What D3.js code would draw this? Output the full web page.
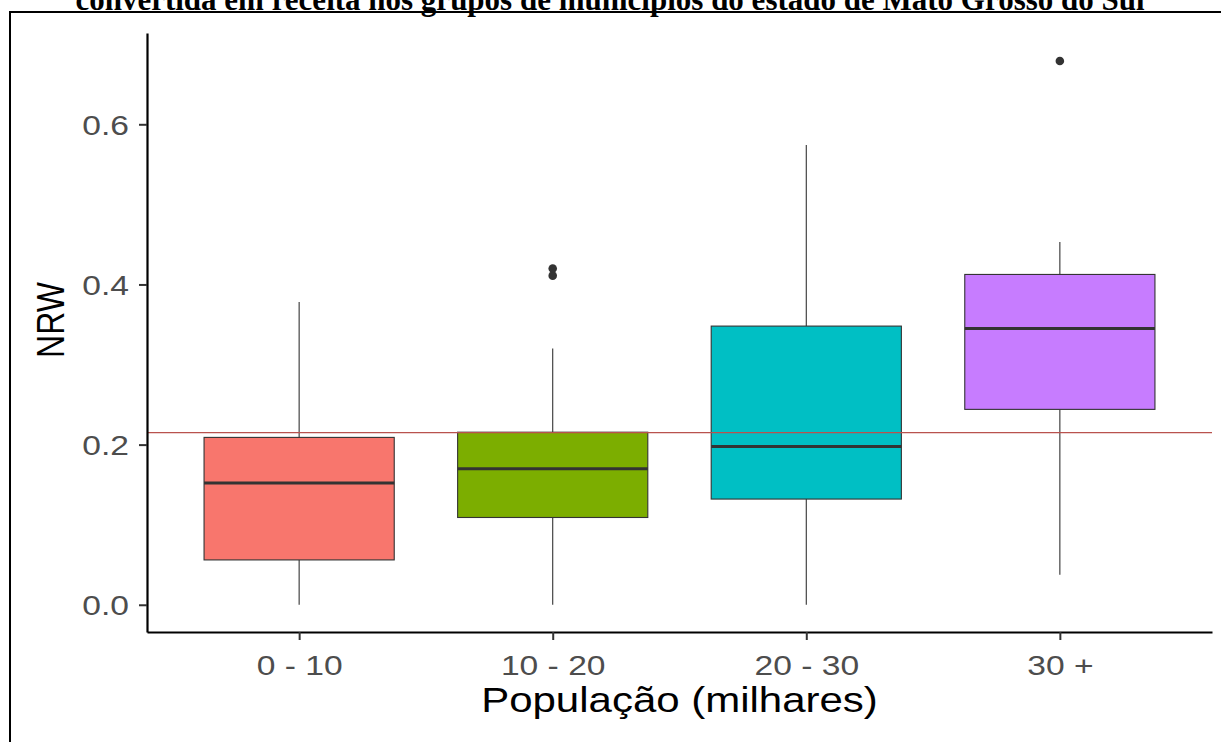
<!DOCTYPE html>
<html>
  <head>
    <meta charset="utf-8">
    <script src="https://d3js.org/d3.v7.min.js"></script>
    <style>
     body { margin: 0; background: #fff; }
     svg { display: block; }
     .axis-text { font-family: "Liberation Sans", Arial, sans-serif; }
    </style>
  </head>
  <body>
    <svg id="chart"></svg>
    <script>
     // values
     var categories = ["0 - 10", "10 - 20", "20 - 30", "30 +"];
     var whiskerLow = [0.000, 0.000, 0.000, 0.0375];
     var q1 = [0.056, 0.109, 0.132, 0.244];
     var medians = [0.152, 0.170, 0.1975, 0.345];
     var q3 = [0.209, 0.2155, 0.348, 0.4125];
     var whiskerHigh = [0.378, 0.320, 0.574, 0.453];
     var outliers = [[], [0.411, 0.420], [], [0.679]];
     var fills = ["#F8766D", "#7CAE00", "#00BFC4", "#C77CFF"];
     var refLine = 0.215;
     var yTicks = [0, 0.2, 0.4, 0.6];
     var titleText = "convertida em receita nos grupos de municípios do estado de Mato Grosso do Sul";

     var W = 1221, H = 742;
     var stretch = 1.2; // the picture is a bit wider than it should be

     var svg = d3.select("#chart").attr("width", W).attr("height", H);

     // page title, cut at the top like in the picture
     var title = svg.append("text")
		    .attr("x", 0).attr("y", 0)
		    .style("font-family", "'Liberation Serif', 'Times New Roman', serif")
		    .style("font-weight", "bold")
		    .style("font-size", "31px")
		    .text(titleText);
     var tw = title.node().getComputedTextLength();
     title.attr("transform", "translate(" + (610 - tw/2) + ",10)");

     // frame
     svg.append("rect")
	.attr("x", 10).attr("y", 12)
	.attr("width", W).attr("height", H)
	.style("fill", "none").style("stroke", "#000").style("stroke-width", 2);

     var x = d3.scalePoint().domain(categories).range([147, 1212]).padding(0.6);
     var y = d3.scaleLinear().domain([-0.034, 0.714]).range([632, 33]);
     var boxW = x.step() * 0.75;

     var g = svg.append("g");

     // whiskers
     categories.forEach(function(c, i) {
	 g.append("line")
	  .attr("x1", x(c)).attr("x2", x(c))
	  .attr("y1", y(q3[i])).attr("y2", y(whiskerHigh[i]))
	  .style("stroke", "#333").style("stroke-width", 1.1);
	 g.append("line")
	  .attr("x1", x(c)).attr("x2", x(c))
	  .attr("y1", y(q1[i])).attr("y2", y(whiskerLow[i]))
	  .style("stroke", "#333").style("stroke-width", 1.1);
     });

     g.selectAll(".box")
      .data(categories)
      .enter().append("rect")
      .attr("class", "box")
      .attr("x", function(d) { return x(d) - boxW/2; })
      .attr("width", boxW)
      .attr("y", function(d, i) { return y(q3[i]); })
      .attr("height", function(d, i) { return y(q1[i]) - y(q3[i]); })
      .style("fill", function(d, i) { return fills[i]; })
      .style("stroke", "#333").style("stroke-width", 1.1);

     g.selectAll(".median")
      .data(categories)
      .enter().append("line")
      .attr("class", "median")
      .attr("x1", function(d) { return x(d) - boxW/2; })
      .attr("x2", function(d) { return x(d) + boxW/2; })
      .attr("y1", function(d, i) { return y(medians[i]); })
      .attr("y2", function(d, i) { return y(medians[i]); })
      .style("stroke", "#333").style("stroke-width", 3);

     categories.forEach(function(c, i) {
	 outliers[i].forEach(function(v) {
	     g.append("circle")
	      .attr("cx", x(c)).attr("cy", y(v)).attr("r", 4.3)
	      .style("fill", "#333");
	 });
     });

     // reference line
     g.append("line")
      .attr("x1", 147).attr("x2", 1212)
      .attr("y1", y(refLine)).attr("y2", y(refLine))
      .style("stroke", "#b9524e").style("stroke-width", 1.2);

     // axes
     var yAxis = svg.append("g")
		    .attr("transform", "translate(147,0)")
		    .call(d3.axisLeft(y).tickValues(yTicks).tickSizeInner(8).tickSizeOuter(0).tickFormat(d3.format(".1f")));
     var xAxis = svg.append("g")
		    .attr("transform", "translate(0,632)")
		    .call(d3.axisBottom(x).tickSizeInner(8).tickSizeOuter(0));
     [yAxis, xAxis].forEach(function(a) {
	 a.select(".domain").style("stroke", "#000").style("stroke-width", 2.2);
	 a.selectAll(".tick line").style("stroke", "#333").style("stroke-width", 2);
	 a.selectAll(".tick text")
	  .attr("class", "axis-text")
	  .style("font-size", "28px")
	  .style("fill", "#4d4d4d");
     });
     yAxis.selectAll(".tick text")
	  .attr("x", null).attr("dy", null)
	  .attr("transform", "translate(-18,10) scale(" + stretch + ",1)");
     xAxis.selectAll(".tick text")
	  .attr("y", null).attr("dy", null)
	  .attr("transform", "translate(0,43) scale(" + stretch + ",1)");

     // axis titles
     svg.append("text")
	.attr("class", "axis-text")
	.attr("transform", "translate(679.5,712) scale(" + stretch + ",1)")
	.style("text-anchor", "middle")
	.style("font-size", "35px")
	.style("fill", "#000")
	.text("População (milhares)");
     svg.append("text")
	.attr("class", "axis-text")
	.attr("transform", "translate(64,320) rotate(-90) scale(1," + stretch + ")")
	.style("text-anchor", "middle")
	.style("font-size", "32px")
	.style("fill", "#000")
	.text("NRW");
    </script>
  </body>
</html>
